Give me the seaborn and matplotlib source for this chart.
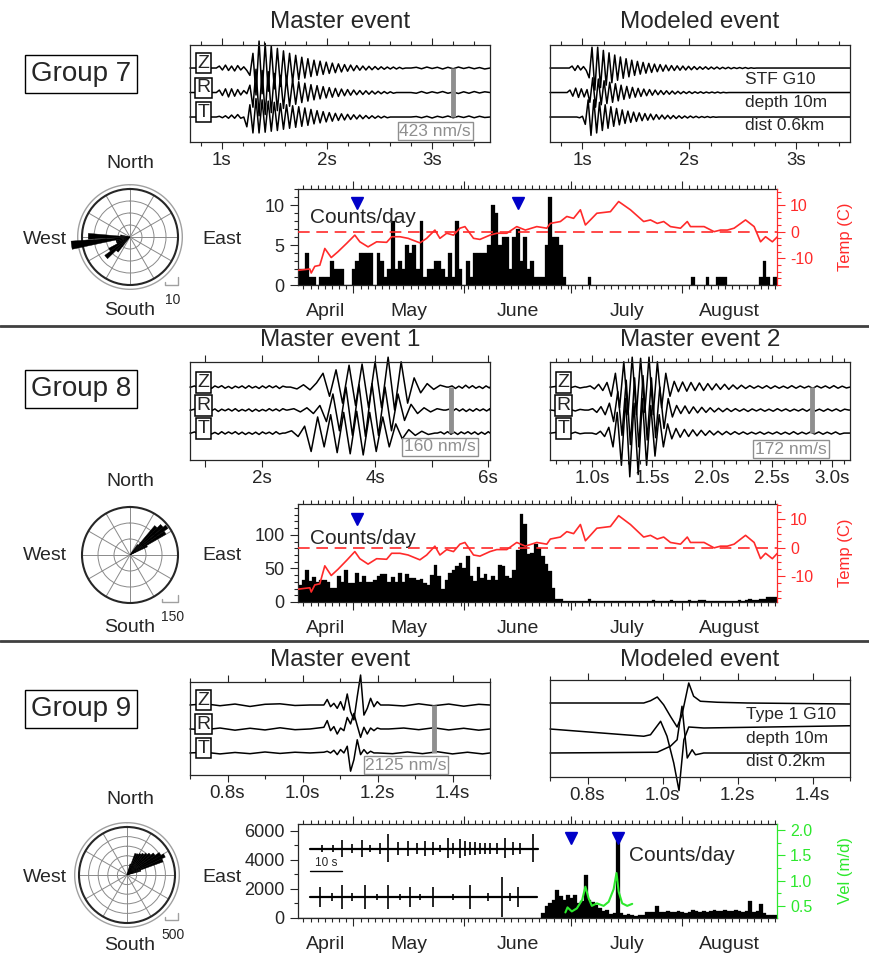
import numpy as np
import matplotlib
matplotlib.use("Agg")
import matplotlib.pyplot as plt
import matplotlib.transforms as mtransforms
from matplotlib.lines import Line2D
from matplotlib.ticker import MultipleLocator
import seaborn as sns

sns.set_theme(style="ticks")
plt.rcParams["font.family"] = ["Liberation Sans", "DejaVu Sans"]
plt.rcParams["axes.linewidth"] = 0.9

W, H = 869, 959
RED = "#ff2a2a"
GREEN = "#2de82d"
BLUE = "#0000c8"
GRAY = "#8f8f8f"

# ---------------- daily counts (day 0 = April 1) ----------------
MONTHS = ["April", "May", "June", "July", "August"]
MONTH_STARTS = [30, 61, 91, 122]
MONTH_CENTERS = [22.25, 45.5, 76, 106.5, 135.25]
DAY_RANGE = (14.5, 148.5)

G7_FIRST = 15
G7_COUNTS = [2, 2, 4, 1, 1, 0, 1, 1, 1, 3, 2, 2, 2, 0, 0, 2, 3, 4, 4, 4,
             4, 0, 4, 3, 1, 2, 8, 2, 3, 2, 5, 4, 5, 2, 8, 1, 2, 2, 3, 3,
             2, 1, 4, 1, 8, 2, 0, 3, 1, 4, 4, 4, 4, 5, 10, 9, 5, 6, 6, 2,
             6, 7, 3, 6, 2, 3, 1, 1, 1, 5, 11, 6, 6, 5, 1,
             0, 0, 0, 0, 0, 0, 1, 0, 0, 0, 0, 0, 0, 0, 0, 0, 0, 0, 0, 0,
             0, 0, 0, 0, 0, 0, 0, 0, 0, 0, 0, 0, 0, 0, 0, 1, 0, 0, 0, 1,
             0, 0, 1, 1, 1, 0, 0, 0, 0, 0, 0, 0, 0, 0, 1, 3, 1, 0, 1]

G8_FIRST = 15
G8_COUNTS = [26, 33, 47, 32, 37, 30, 33, 33, 30, 21, 21, 38, 30, 47, 28, 28, 43, 30, 38, 30,
             30, 33, 38, 41, 42, 30, 37, 30, 43, 30, 42, 36, 36, 33, 35, 28, 26, 40, 55, 38,
             20, 33, 43, 48, 53, 58, 50, 68, 38, 32, 52, 36, 41, 33, 38, 33, 55, 53, 38, 36,
             48, 78, 131, 116, 71, 73, 86, 81, 68, 56, 46, 21, 5, 5, 2,
             2, 1, 2, 1, 1, 2, 5, 1, 1, 2, 1, 1, 1, 2, 1, 1, 2, 1, 1, 2,
             2, 1, 1, 2, 3, 2, 1, 1, 2, 3, 2, 2, 1, 2, 3, 2, 2, 3, 3, 2,
             2, 1, 2, 2, 1, 2, 2, 2, 3, 2, 3, 4, 3, 3, 4, 5, 7, 7, 7]

G9_FIRST = 83
G9_COUNTS = [340, 800, 1000, 1250, 1900, 1500, 1250, 1600, 1360, 1600,
             1000, 1200, 2950, 1250, 1100, 900, 700, 450, 570, 250,
             340, 5300, 340, 230, 300, 230, 160, 230, 230, 390,
             390, 390, 800, 390, 390, 450, 390, 390, 450, 390,
             340, 390, 570, 450, 390, 450, 390, 450, 570, 450,
             450, 570, 450, 500, 570, 450, 390, 450, 1200, 390,
             450, 980, 340, 230, 230, 230]

TEMP_DAYS = [14.5, 17.8, 18.2, 19.2, 20.6, 22.0, 23.8, 25.7, 28.1, 30.4, 31.8, 34.1, 36.5,
             39.3, 40.7, 43.0, 45.3, 48.6, 50.5, 52.8, 54.2, 56.1, 58.0, 59.8, 61.2, 63.6,
             65.4, 68.2, 70.1, 72.9, 75.7, 78.1, 81.3, 84.1, 85.1, 87.9, 89.7, 91.6, 93.5,
             94.9, 96.3, 98.1, 101.9, 104.2, 107.5, 111.2, 113.1, 115.0, 116.8, 118.7,
             121.5, 123.4, 124.3, 128.1, 130.9, 132.7, 134.6, 136.5, 139.7, 142.1, 143.9,
             145.3, 147.2, 148.6]
TEMP_C = [-14.5, -14, -15.5, -13, -12.6, -6.3, -9.7, -7.5, -4.4, -1.3, -3.8, -5.7, -3.8,
          -4, -1.9, -1.9, -2.5, -4.2, -2.5, 0.6, -2.5, -0.6, -1.3, 1.3, 1.9, -2.5,
          -2.9, -1.3, -0.6, -0.6, 1.9, 0.6, 1.9, 1.3, 3.1, 3.8, 5.7, 5, 8.2,
          2.5, 4.4, 6.9, 7.5, 11.3, 8.2, 3.8, 4.4, 3.1, 3.8, 1.9,
          1.3, 3.8, 1.9, 1.9, 0, 0.6, 0.6, 1.3, 4.4, 1.9, -3.8,
          -1.9, -3.8, -1.9]

VEL_DAYS = [89.3, 89.9, 91.1, 92.5, 94.0, 94.9, 95.8, 96.7, 98.1, 100.0, 101.4, 102.8,
            103.6, 104.2, 105.2, 106.6, 108.0]
VEL_MD = [0.37, 0.47, 0.39, 0.45, 0.62, 0.88, 0.65, 0.5, 0.55, 0.5, 0.58, 0.83,
          1.15, 0.78, 0.55, 0.5, 0.54]

G7_MARKS = [31, 76]
G8_MARKS = [31]
G9_MARKS = [91, 104]

# ---------------- rose diagrams (azimuth deg, count) ----------------
G7_ROSE_AZ = [222, 230, 238, 246, 254, 262, 271, 279]
G7_ROSE_N = [4, 6.5, 5, 3, 3, 12.3, 8.7, 2]
G8_ROSE_AZ = [37.5, 42.5, 47.5, 52.5, 57.5, 62.5]
G8_ROSE_N = [40, 120, 135, 145, 130, 60]
G9_ROSE_AZ = [17.5, 22.5, 27.5, 32.5, 37.5, 42.5, 47.5, 52.5, 57.5, 62.5, 67.5, 72.5]
G9_ROSE_N = [120, 240, 245, 260, 277, 298, 323, 357, 409, 440, 400, 150]

# ---------------- seismograms: pieces of (start s, step s, amplitude x100) ----------------
G7M_Z = [(0.95, 0.029, [0, 8, -8, 12, -10, 8, -12, 10, -8, 5, -10, -30, 60, -110, 110, -105, 100,
                        -95, 90, -85, 80, -75, 70, -65, 60, -56, 52, -48, 44, -41, 38, -35, 32, -30,
                        28, -26, 24, -22, 20, -19, 17, -16, 14, -13, 12, -11, 10, -9, 8, -8, 7, -7,
                        6, -6, 5, -5, 4, -4, 4, -4, 3, -3, 0]),
         (2.8, 0.05, [0, 3, -3, 4, -2, 3, -4, 3, -3, 4, -2, 3, -3, 2, -4, 0])]
G7M_R = [(0.95, 0.029, [0, 10, -12, 15, -18, 15, -15, 12, -10, 8, -5, 30, -60, 95, -95, 90, -90,
                        85, -82, 78, -74, 70, -65, 60, -56, 52, -48, 44, -41, 38, -35, 32, -30, 28,
                        -26, 24, -22, 20, -19, 17, -16, 14, -13, 12, -11, 10, -9, 8, -8, 7, -7, 6,
                        -6, 5, -5, 4, -4, 3, -3, 0]),
         (2.8, 0.05, [0, -3, 4, -3, 3, -2, 4, -3, 2, -4, 3, -3, 4, -2, 3, 0])]
G7M_T = [(0.95, 0.029, [0, 3, -3, 5, -5, 8, -5, 10, -5, 0, -40, 50, -65, 75, -65, 70, -62, 65,
                        -58, 60, -55, 55, -50, 50, -46, 46, -42, 42, -38, 37, -34, 31, -28, 26,
                        -24, 22, -20, 18, -17, 15, -14, 13, -12, 11, -10, 9, -8, 8, -7, 6, -6, 5,
                        -5, 4, -4, 3, -3, 0]),
         (2.8, 0.05, [0, 2, -3, 3, -4, 3, -2, 4, -3, 3, -2, 4, -3, 3, -2, 0])]

G7S_Z = [(0.88, 0.0265, [0, 8, -10, 10, -8, 6, -10, -40, 85, -90, 85, -80, 72, -70, 62, -60, 53, -50,
                         45, -42, 38, -36, 32, -30, 27, -25, 23, -21, 19, -18, 16, -15, 14, -13, 12,
                         -11, 10, -10, 9, -9, 8, -8, 7, -7, 6, -6, 5, -5, 5, -5, 4, -4, 4, -4, 3, -3,
                         3, -3, 2, -2, 2, -2, 2, -2, 1, -1, 0])]
G7S_R = [(0.86, 0.0265, [0, 10, -15, 18, -20, 15, -18, 12, -40, 60, -60, 55, -50, 48, -45, 42, -40,
                         36, -34, 30, -28, 25, -23, 21, -19, 17, -16, 14, -13, 12, -11, 10, -9, 8,
                         -8, 7, -7, 6, -6, 5, -5, 4, -4, 4, -4, 3, -3, 3, -3, 2, -2, 2, -2, 2, -2,
                         1, -1, 0])]
G7S_T = [(0.95, 0.0265, [0, -3, 3, -30, 70, -75, 70, -65, 60, -55, 50, -46, 42, -38, 35, -32, 29,
                         -26, 24, -22, 20, -18, 17, -15, 14, -13, 12, -11, 10, -9, 8, -8, 7, -7, 6,
                         -6, 5, -5, 4, -4, 4, -3, 3, -3, 2, -2, 2, -2, 1, -1, 0])]

G8A_Z = [(0.75, 0.06, [0, 5, -4, 6, -3, 4, -6, 5, -2, 6, -5, 3, -6, 4, -3, 5, -5, 6, -4, 3, -6, 5,
                       -4, 6, -3, 5, -6, 4, 0]),
         (2.505, 0.115, [0, -8, 10, -12, 18, 60, -40, 75, -70, 95, -80, 100, -90, 110, -90, 130,
                         -100, 110, -70, 40, -25, 15, -10, 8, 0]),
         (5.3, 0.06, [0, 5, -6, 4, -5, 8, -4, 6, -5, 3, -6, 5, -4, 0])]
G8A_R = [(0.75, 0.06, [0, 4, -5, 3, -4, 6, -3, 5, -6, 4, -3, 5, -4, 6, -5, 3, -4, 5, -6, 4, -5, 3,
                       -4, 6, -3, 5, -4, 6, 0]),
         (2.45, 0.115, [0, 6, -8, 10, -15, 20, -50, 70, -90, 100, -110, 110, -115, 115, -110, 100,
                        -90, 70, -45, 25, -15, 10, -8, 6, 0]),
         (5.25, 0.06, [0, 4, -5, 6, -4, 5, -6, 4, -5, 6, -3, 5, -4, 6, 0])]
G8A_T = [(0.75, 0.06, [0, 5, -3, 4, -6, 5, -4, 3, -5, 6, -4, 5, -3, 6, -5, 4, -6, 3, -5, 4, -6, 5,
                       -3, 4, -5, 6, -4, 0]),
         (2.41, 0.115, [0, 10, -15, 30, -80, 70, -60, 80, -85, 90, -90, 95, -95, 90, -80, 70, -60,
                        40, -25, 15, -10, 8, -6, 0]),
         (5.1, 0.06, [0, 5, -4, 6, -5, 4, -6, 5, -3, 6, -4, 5, -6, 4, -5, 6, 0])]

G8B_Z = [(0.66, 0.04, [0, 3, -3, 4, -3, 3, -4, 0]),
         (0.95, 0.035, [0, 5, -8, 12, -15, 20, -40, 60, -90, 110, -120, 130, -120, 125, -110, 130,
                        -120, 110, -90, 60, -40, 25, -20, 22, -18, 20, -15, 18, -15, 15, -12, 14,
                        -10, 12, -10, 9, -8, 8, -6, 6, -5, 5, -5, 6, -6, 5, -5, 4, -5, 6, -5, 5,
                        -4, 4, -6, 5, -4, 5, -5, 6, -5, 4, -4, 5, 0])]
G8B_R = [(0.66, 0.04, [0, -3, 4, -3, 3, -4, 3, 0]),
         (0.97, 0.035, [0, 6, -10, 15, -20, 30, -50, 80, -110, 130, -150, 140, -160, 150, -130, 140,
                        -120, 100, -80, 50, -30, 20, -15, 18, -15, 14, -12, 12, -10, 10, -8, 8, -7,
                        7, -6, 6, -5, 5, -6, 5, -4, 5, -5, 4, -5, 6, -4, 5, -5, 4, -4, 5, -5, 6,
                        -4, 4, -5, 5, -4, 5, -5, 4, 0])]
G8B_T = [(0.66, 0.04, [0, 3, -4, 3, -3, 4, -3, 0]),
         (1.0, 0.035, [0, -5, 8, -15, 25, -60, 90, -140, 150, -190, 130, -180, 150, -140, 120, -100,
                       80, -60, 40, -25, 20, -18, 16, -15, 14, -12, 12, -10, 10, -8, 8, -7, 7, -6,
                       6, -5, 5, -5, 4, -4, 5, -5, 4, -4, 5, -5, 4, -5, 6, -5, 4, -4, 5, -4, 5,
                       -5, 4, -4, 5, -5, 0])]

G9M_Z = [(0.7, 0.04, [0, 5, -3, 4, -6, 3, 5, -2, 0]),
         (1.057, 0.0089, [0, 23, -7, 7, -14, 14, -21, 46, -28, -62, 35, 125, -42, -14, 28, -7, 14, 0]),
         (1.23, 0.04, [0, -4, 5, -3, 4, -5, 3, 0])]
G9M_R = [(0.7, 0.04, [0, -3, 4, -5, 3, -4, 5, -3, 0]),
         (1.057, 0.0089, [7, 35, -7, 10, -21, 4, -7, 48, 21, 65, 14, -35, 7, -21, 4, -7, 4, 0]),
         (1.23, 0.04, [0, 4, -3, 5, -4, 3, -5, 0])]
G9M_T = [(0.7, 0.04, [0, 3, -4, 2, -3, 4, -2, 3, 0]),
         (1.057, 0.0089, [3, 7, 0, 11, -7, 14, 0, 28, -76, -28, 55, -7, 14, -3, 7, 0]),
         (1.2, 0.04, [0, -3, 4, -3, 5, -4, 3, -4, 0])]

# modeled group 9 (time s, amplitude)
G9S_Z_T = [0.70, 0.95, 0.968, 0.986, 1.003, 1.021, 1.039, 1.052, 1.070, 1.083, 1.101, 1.146, 1.226, 1.50]
G9S_Z_V = [0, 0, 0.09, 0.24, -0.07, -0.53, -0.96, -0.47, 0.80, 0.27, 0.07, 0.03, 0, -0.04]
G9S_R_T = [0.70, 0.95, 0.968, 0.995, 1.012, 1.030, 1.044, 1.057, 1.070, 1.110, 1.50]
G9S_R_V = [-0.04, -0.33, -0.27, 0.27, -0.33, -1.4, -2.5, -0.47, 0.04, 0, 0.09]
G9S_T_T = [0.70, 0.986, 1.021, 1.039, 1.052, 1.066, 1.079, 1.088, 1.110, 1.50]
G9S_T_V = [0, 0.03, 0.27, 0.53, 1.87, -0.2, 0.13, -0.07, 0, 0]

# inset tremor records in group 9 (spike time s, amplitude px)
UP_SPIKE_T = [3.5, 7.1, 9.6, 12.6, 15.7, 18.2, 21.2, 23.7, 26.8, 29.8, 32.3, 34.8, 37.4, 39.4,
              41.9, 43.4, 45.5, 47.0, 48.5, 50.0, 51.5, 53.0, 54.5, 56.6, 59.1, 61.6, 63.6, 67.7]
UP_SPIKE_A = [4, 4, 9, 5, 9, 4, 6, 15, 7, 8, 6, 8, 7, 4, 11, 6, 10, 8, 7, 7, 6, 6, 6, 6, 11, 7, 6, 15]
LO_SPIKE_T = [3.0, 6.6, 9.6, 12.6, 16.7, 20.2, 23.7, 27.3, 30.3, 33.3, 37.4, 43.4, 48.5, 54.0,
              58.1, 60.6, 63.1]
LO_SPIKE_A = [10, 4, 12, 4, 12, 3, 12, 3, 10, 3, 10, 3, 12, 4, 20, 4, 10]

fig = plt.figure(figsize=(W / 100, H / 100), dpi=100)


def px_axes(x0, y0, x1, y1, **kw):
    return fig.add_axes([x0 / W, 1 - y1 / H, (x1 - x0) / W, (y1 - y0) / H], **kw)


def ftext(x, y, s, **kw):
    fig.text(x / W, 1 - y / H, s, **kw)


def trace_xy(pieces, xlim):
    ts, vs = [xlim[0]], [0.0]
    for t0, dt, amps in pieces:
        ts += list(t0 + dt * np.arange(len(amps)))
        vs += [a / 100 for a in amps]
    ts.append(xlim[1])
    vs.append(0.0)
    ts, vs = np.array(ts), np.array(vs)
    keep = (ts >= xlim[0]) & (ts <= xlim[1])
    return ts[keep], vs[keep]


def wave_panel(box, xlim, ylim, curves, ticks, labels, minor, comps=True,
               bar_t=None, scale=None, notes=None):
    ax = px_axes(*box)
    for base, (t, v) in zip((2, 1, 0), curves):
        ax.plot(t, base + np.asarray(v), color="black", lw=1.1, clip_on=False, zorder=2)
    ax.set_xlim(xlim)
    ax.set_ylim(ylim)
    ax.set_yticks([])
    ax.set_xticks(ticks, labels=labels)
    ax.xaxis.set_minor_locator(MultipleLocator(minor))
    ax.tick_params(axis="x", which="both", top=True, bottom=True, direction="out",
                   labelsize=13.5, width=0.8, pad=2)
    ax.tick_params(axis="x", which="major", length=5)
    ax.tick_params(axis="x", which="minor", length=3)
    trans = mtransforms.blended_transform_factory(ax.transAxes, ax.transData)
    if comps:
        for lbl, base in zip("ZRT", (2, 1, 0)):
            ax.text(0.046, base + 0.2, lbl, transform=trans, ha="center", va="center",
                    fontsize=14, zorder=5,
                    bbox=dict(boxstyle="square,pad=0.08", fc="white", ec="black", lw=1.1))
    if bar_t is not None:
        ax.plot([bar_t, bar_t], [0, 2], color=GRAY, lw=3.5, solid_capstyle="butt", zorder=3)
    if scale is not None:
        sx, sy, s = scale
        ax.text(sx, sy, s, transform=ax.transAxes, color=GRAY, fontsize=12.5, ha="center",
                va="center", zorder=5,
                bbox=dict(boxstyle="square,pad=0.1", fc="white", ec=GRAY, lw=1))
    if notes:
        for nx, ny, s in notes:
            ax.text(nx, ny, s, transform=ax.transAxes, fontsize=12.5, ha="left", va="center")
    return ax


def count_panel(box, first_day, counts, ymax, yticks, yminor, marks, note_xy):
    ax = px_axes(*box)
    days = first_day + np.arange(len(counts))
    sns.histplot(x=days, weights=counts, binwidth=1, binrange=DAY_RANGE, color="black",
                 alpha=1, edgecolor="black", linewidth=0.2, ax=ax)
    ax.set_xlim(DAY_RANGE)
    ax.set_ylim(0, ymax)
    ax.set(xlabel="", ylabel="")
    ax.set_yticks(yticks)
    ax.yaxis.set_minor_locator(MultipleLocator(yminor))
    ax.set_xticks(MONTH_STARTS, labels=[])
    ax.xaxis.set_minor_locator(MultipleLocator(2))
    ax.tick_params(which="both", direction="out", top=True, labelsize=13, width=0.8)
    ax.tick_params(which="major", length=6)
    ax.tick_params(which="minor", length=3)
    ax.spines["right"].set_visible(False)
    trans = mtransforms.blended_transform_factory(ax.transData, ax.transAxes)
    for name, c in zip(MONTHS, MONTH_CENTERS):
        ax.annotate(name, xy=(c, 0), xycoords=trans, xytext=(0, -19),
                    textcoords="offset points", ha="center", va="center", fontsize=14,
                    annotation_clip=False)
    ax.plot(marks, [0.85] * len(marks), transform=trans, marker="v", ls="none",
            color=BLUE, ms=8, clip_on=False, zorder=6)
    ax.text(note_xy[0], note_xy[1], "Counts/day", transform=ax.transAxes, fontsize=15,
            ha="left", va="center", zorder=6)
    return ax


def side_axis(ax, color, ylim, ticks, labels, minor, title):
    ax2 = ax.twinx()
    ax2.set_ylim(ylim)
    ax2.set_yticks(ticks, labels=labels)
    ax2.yaxis.set_minor_locator(MultipleLocator(minor))
    ax2.tick_params(axis="y", which="both", colors=color, direction="out", labelsize=11.5,
                    width=0.8)
    ax2.tick_params(axis="y", which="major", length=6)
    ax2.tick_params(axis="y", which="minor", length=3)
    for side in ("left", "top", "bottom"):
        ax2.spines[side].set_visible(False)
    ax2.spines["right"].set_color(color)
    ax2.text(1.142, 0.5, title, transform=ax2.transAxes, rotation=90, color=color,
             fontsize=12, ha="center", va="center")
    return ax2


def rose(center, r_px, az, n, rmax, rings, width, halo):
    x0, y0 = center
    ax = px_axes(x0 - r_px, y0 - r_px, x0 + r_px, y0 + r_px, projection="polar")
    ax.set_theta_zero_location("N")
    ax.set_theta_direction(-1)
    ax.bar(np.deg2rad(az), n, width=np.deg2rad(width), color="black", edgecolor="black",
           lw=0.3, clip_on=False, zorder=3)
    ax.set_ylim(0, rmax)
    ax.set_yticks(rings, labels=[])
    ax.set_xticks(np.deg2rad(np.arange(0, 360, 30)), labels=[])
    ax.grid(True, color="#8a8a8a", lw=0.7)
    ax.spines["polar"].set_linewidth(1.5)
    if halo:
        th = np.linspace(0, 2 * np.pi, 200)
        ax.plot(th, np.full(th.size, rmax * 1.09), color="#a0a0a0", lw=1, clip_on=False)
    return ax


def rose_labels(cx, cy, north_y, south_y, scale_txt, bracket):
    ftext(cx, north_y, "North", fontsize=14, ha="center", va="center")
    ftext(cx, south_y, "South", fontsize=14, ha="center", va="center")
    ftext(45, cy, "West", fontsize=14, ha="center", va="center")
    ftext(222, cy, "East", fontsize=14, ha="center", va="center")
    bx0, bx1, by0, by1 = bracket
    fig.add_artist(Line2D(np.array([bx0, bx0, bx1, bx1]) / W,
                          1 - np.array([by1 - 3, by1, by1, by0]) / H,
                          color="#a0a0a0", lw=1))
    ftext(bx1 - 5, by1 + 15, scale_txt, fontsize=10, ha="center", va="center")


def group_label(y, s):
    ftext(81, y, s, fontsize=20, ha="center", va="center",
          bbox=dict(boxstyle="square,pad=0.22", fc="white", ec="black", lw=1))


# ================= Group 7 =================
group_label(74, "Group 7")
ftext(340, 22, "Master event", fontsize=17.5, ha="center", va="center")
ftext(700, 22, "Modeled event", fontsize=17.5, ha="center", va="center")
xl = (0.7, 3.55)
wave_panel((190, 45, 490, 142), xl, (-1.02, 2.94),
           [trace_xy(G7M_Z, xl), trace_xy(G7M_R, xl), trace_xy(G7M_T, xl)],
           [1, 2, 3], ["1s", "2s", "3s"], 0.2, bar_t=3.2, scale=(0.817, 0.113, "423 nm/s"))
xl = (0.7, 3.5)
wave_panel((550, 45, 850, 142), xl, (-1.02, 2.94),
           [trace_xy(G7S_Z, xl), trace_xy(G7S_R, xl), trace_xy(G7S_T, xl)],
           [1, 2, 3], ["1s", "2s", "3s"], 0.2, comps=False,
           notes=[(0.65, 0.64, "STF G10"), (0.65, 0.41, "depth 10m"), (0.65, 0.175, "dist 0.6km")])
rose((130, 237), 48, G7_ROSE_AZ, G7_ROSE_N, 10, [2.5, 5, 7.5], 8, True)
rose_labels(130, 240, 163, 311, "10", (165, 178, 277, 285))
ax = count_panel((298, 189, 777, 285), G7_FIRST, G7_COUNTS, 12, [0, 5, 10], 1, G7_MARKS, (0.025, 0.70))
ax2 = side_axis(ax, RED, (-20, 16), [-10, 0, 10], ["-10", "0", "10"], 2.5, "Temp (C)")
sns.lineplot(x=TEMP_DAYS, y=TEMP_C, ax=ax2, color=RED, lw=1.2, estimator=None, sort=False)
ax2.axhline(0, color=RED, lw=1.2, dashes=(7, 4))
ax2.set_ylabel("")

fig.add_artist(Line2D([0, 1], [1 - 326 / H, 1 - 326 / H], color="#404040", lw=2))

# ================= Group 8 =================
group_label(389, "Group 8")
ftext(340, 340, "Master event 1", fontsize=17.5, ha="center", va="center")
ftext(700, 340, "Master event 2", fontsize=17.5, ha="center", va="center")
xl = (0.73, 6.03)
wave_panel((190, 362, 490, 460), xl, (-1.17, 3.09),
           [trace_xy(G8A_Z, xl), trace_xy(G8A_R, xl), trace_xy(G8A_T, xl)],
           [1, 2, 3, 4, 5, 6], ["", "2s", "", "4s", "", "6s"], 1, bar_t=5.34,
           scale=(0.833, 0.133, "160 nm/s"))
xl = (0.65, 3.15)
wave_panel((550, 362, 850, 460), xl, (-1.17, 3.09),
           [trace_xy(G8B_Z, xl), trace_xy(G8B_R, xl), trace_xy(G8B_T, xl)],
           [1.0, 1.5, 2.0, 2.5, 3.0], ["1.0s", "1.5s", "2.0s", "2.5s", "3.0s"], 0.1,
           bar_t=2.83, scale=(0.803, 0.112, "172 nm/s"))
rose((130, 555), 48, G8_ROSE_AZ, G8_ROSE_N, 150, [50, 100], 5, False)
rose_labels(130, 555, 481, 627, "150", (162, 178, 595, 602))
ax = count_panel((298, 504, 777, 602), G8_FIRST, G8_COUNTS, 146, [0, 50, 100], 10, G8_MARKS, (0.025, 0.65))
ax2 = side_axis(ax, RED, (-19, 15.4), [-10, 0, 10], ["-10", "0", "10"], 2.5, "Temp (C)")
sns.lineplot(x=TEMP_DAYS, y=TEMP_C, ax=ax2, color=RED, lw=1.2, estimator=None, sort=False)
ax2.axhline(0, color=RED, lw=1.2, dashes=(7, 4))
ax2.set_ylabel("")

fig.add_artist(Line2D([0, 1], [1 - 641 / H, 1 - 641 / H], color="#404040", lw=2))

# ================= Group 9 =================
group_label(709, "Group 9")
ftext(340, 660, "Master event", fontsize=17.5, ha="center", va="center")
ftext(700, 660, "Modeled event", fontsize=17.5, ha="center", va="center")
xl = (0.7, 1.5)
wave_panel((190, 682, 490, 775), xl, (-0.92, 2.96),
           [trace_xy(G9M_Z, xl), trace_xy(G9M_R, xl), trace_xy(G9M_T, xl)],
           [0.8, 1.0, 1.2, 1.4], ["0.8s", "1.0s", "1.2s", "1.4s"], 0.1, bar_t=1.35,
           scale=(0.72, 0.107, "2125 nm/s"))
wave_panel((550, 680, 850, 777), xl, (-0.96, 2.92),
           [(G9S_Z_T, G9S_Z_V), (G9S_R_T, G9S_R_V), (G9S_T_T, G9S_T_V)],
           [0.8, 1.0, 1.2, 1.4], ["0.8s", "1.0s", "1.2s", "1.4s"], 0.1, comps=False,
           notes=[(0.653, 0.64, "Type 1 G10"), (0.653, 0.40, "depth 10m"), (0.653, 0.155, "dist 0.2km")])
rose((127, 875), 48, G9_ROSE_AZ, G9_ROSE_N, 500, [100, 200, 300, 400], 5, True)
rose_labels(130, 877, 800, 946, "500", (165, 178, 913, 920))
ax = count_panel((298, 824, 777, 918), G9_FIRST, G9_COUNTS, 6480, [0, 2000, 4000, 6000], 1000,
                 G9_MARKS, (0.69, 0.67))
ax2 = side_axis(ax, GREEN, (0.26, 2.12), [0.5, 1.0, 1.5, 2.0], ["0.5", "1.0", "1.5", "2.0"], 0.25,
                "Vel (m/d)")
sns.lineplot(x=VEL_DAYS, y=VEL_MD, ax=ax2, color=GREEN, lw=1.5, estimator=None, sort=False)
ax2.set_ylabel("")

# inset tremor records
ins = px_axes(305, 826, 545, 920)
ins.set_xlim(-1.5, 71.2)
ins.set_ylim(0, 94)
ins.axis("off")
ins.plot([0, 69], [71, 71], color="black", lw=1.6)
ins.vlines(UP_SPIKE_T, 71 - 0.85 * np.array(UP_SPIKE_A), 71 + np.array(UP_SPIKE_A), color="black", lw=1.2)
ins.plot([0, 68.7], [23, 23], color="black", lw=1.6)
ins.vlines(LO_SPIKE_T, 23 - np.array(LO_SPIKE_A), 23 + np.array(LO_SPIKE_A), color="black", lw=1.2)
ins.plot([0, 9.7], [49, 49], color="black", lw=1)
ins.text(1.5, 51, "10 s", fontsize=8.5, ha="left", va="bottom")

fig.savefig("out.png", dpi=100)
